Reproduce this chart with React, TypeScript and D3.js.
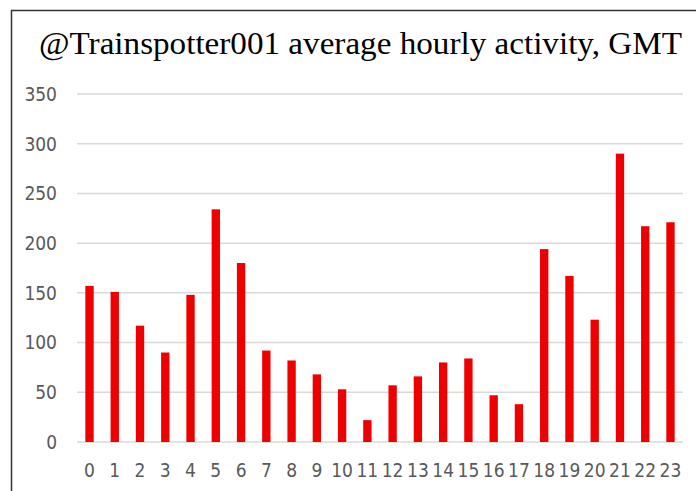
import { useMemo } from "react";
import { scaleBand, scaleLinear, range } from "d3";

const width = 696;
const height = 491;

const hours = range(0, 24).map(String);
const activity = [
  157, 151, 117, 90, 148, 234, 180, 92, 82, 68, 53, 22, 57, 66, 80, 84, 47, 38,
  194, 167, 123, 290, 217, 221,
];
const yTicks = [0, 50, 100, 150, 200, 250, 300, 350];
const title = "@Trainspotter001 average hourly activity, GMT";

const labelFont = "'Liberation Sans Narrow', 'DejaVu Sans Condensed', 'Liberation Sans', sans-serif";

export default function App() {
  const x = useMemo(
    () => scaleBand().domain(hours).range([77, 683]).paddingInner(0.67).paddingOuter(0.33),
    []
  );
  const y = useMemo(() => scaleLinear().domain([0, 350]).range([442, 94]), []);

  return (
    <svg
      width={width}
      height={height}
      style={{ position: "absolute", left: 0, top: 0, background: "#fff" }}
    >
      <rect x={0} y={0} width={width} height={height} fill="#fff" />
      {/* chart frame, cropped on the right and bottom */}
      <path d={`M11.5,${height} V10.5 H${width}`} fill="none" stroke="#333" strokeWidth={1.5} />

      <text
        x={39}
        y={54}
        fontFamily="'Liberation Serif', 'Times New Roman', serif"
        fontSize={32}
        textLength={643}
        lengthAdjust="spacingAndGlyphs"
        fill="#000"
      >
        {title}
      </text>

      {yTicks.map((t) => (
        <g key={t}>
          <line x1={77} x2={683} y1={y(t)} y2={y(t)} stroke="#d9d9d9" strokeWidth={1.5} />
          <text
            x={57}
            y={y(t)}
            dy="0.36em"
            textAnchor="end"
            fontFamily={labelFont}
            fontSize={19}
            fill="#595959"
          >
            {t}
          </text>
        </g>
      ))}

      {hours.map((h, i) => (
        <rect
          key={h}
          x={x(h)}
          y={y(activity[i])}
          width={x.bandwidth()}
          height={y(0) - y(activity[i])}
          fill="#ee0000"
        />
      ))}

      {hours.map((h) => (
        <text
          key={h}
          x={(x(h) ?? 0) + x.bandwidth() / 2}
          y={477}
          textAnchor="middle"
          fontFamily={labelFont}
          fontSize={19}
          fill="#595959"
        >
          {h}
        </text>
      ))}
    </svg>
  );
}
